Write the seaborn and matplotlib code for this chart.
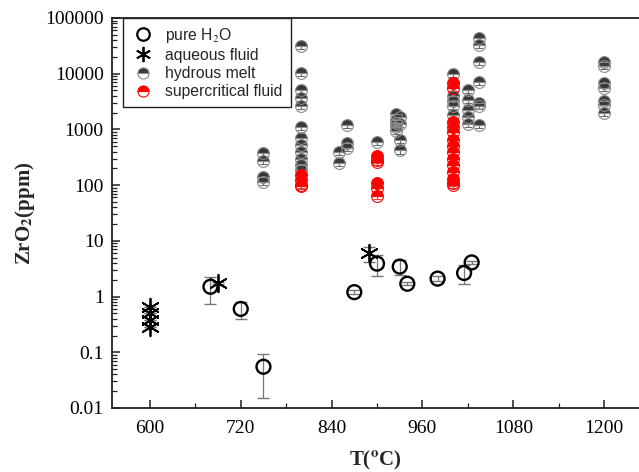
import numpy as np
import pandas as pd
import seaborn as sns
from matplotlib import pyplot as plt
import matplotlib as mpl
from matplotlib.lines import Line2D

sns.set_theme(style='ticks')
plt.rcParams['font.family'] = ['Liberation Serif', 'DejaVu Serif']
plt.rcParams['mathtext.fontset'] = 'stix'

# pure H2O (open circles, with error bars)
pure_T = [680, 720, 750, 870, 900, 930, 940, 980, 1015, 1025]
pure_ppm = [1.5, 0.6, 0.055, 1.2, 3.9, 3.45, 1.7, 2.1, 2.65, 4.1]
pure_err = [0.75, 0.2, 0.04, 0.1, 1.6, 1.0, 0.1, 0.2, 1.0, 0.2]

# aqueous fluid (asterisks)
aq_T = [600, 600, 600, 600, 690, 890]
aq_ppm = [0.65, 0.5, 0.38, 0.28, 1.75, 6.0]
aq_err = [0.0, 0.0, 0.0, 0.0, 0.1, 1.8]

# hydrous melt (half filled, dark)
melt_T = ([750] * 4 + [800] * 12 + [850] * 2 + [860] * 3 + [900] + [925] * 5 + [930] * 4
          + [1000] * 5 + [1020] * 5 + [1035] * 7 + [1200] * 7)
melt_ppm = ([370, 270, 140, 115]
            + [31000, 10500, 5000, 3700, 2600, 1100, 700, 520, 400, 300, 230, 185]
            + [400, 250]
            + [1200, 560, 470]
            + [600]
            + [1900, 1500, 1300, 1100, 950]
            + [1650, 1250, 650, 420]
            + [10000, 4000, 3200, 2600, 1850]
            + [5200, 3400, 2250, 1640, 1230]
            + [43000, 33000, 16500, 7200, 3000, 2600, 1200]
            + [16500, 14000, 6900, 5600, 3300, 2700, 1950])

# supercritical fluid (half filled, red)
sc_T = [800] * 4 + [900] * 6 + [1000] * 14
sc_ppm = ([150, 125, 100, 95]
          + [330, 280, 260, 110, 90, 65]
          + [6800, 5600, 1350, 1100, 900, 650, 500, 400, 300, 230, 170, 130, 110, 100])

pure = pd.DataFrame({'T': pure_T, 'ppm': pure_ppm})
aq = pd.DataFrame({'T': aq_T, 'ppm': aq_ppm})

f = plt.figure(figsize=(6.39, 4.72), dpi=100)
ax = f.add_axes([0.1753, 0.1356, 0.8247, 0.8263])
ax.set_yscale('log')

# half filled melts, error bar visible through the empty lower half
melt_err = [0.12 * v for v in melt_ppm]
ax.errorbar(melt_T, melt_ppm, yerr=melt_err, fmt='o', ms=8.5, fillstyle='top',
            markerfacecolor='#383838', markerfacecoloralt='none', markeredgecolor='#8a8a8a',
            markeredgewidth=0.8, ecolor='#6a6a6a', elinewidth=0.8, capsize=3, zorder=3)
sc_err = [0.12 * v for v in sc_ppm]
ax.errorbar(sc_T, sc_ppm, yerr=sc_err, fmt='o', ms=8.5, fillstyle='top',
            markerfacecolor='red', markerfacecoloralt='none', markeredgecolor='red',
            markeredgewidth=0.8, ecolor='#e04040', elinewidth=0.8, capsize=3, zorder=4)

# pure water with error bars
ax.errorbar(pure_T, pure_ppm, yerr=pure_err, fmt='none', ecolor='#777777',
            elinewidth=0.9, capsize=4, zorder=2)
sns.scatterplot(data=pure, x='T', y='ppm', ax=ax, marker='o', s=100,
                facecolor='none', edgecolor='black', linewidth=1.7, zorder=5)

ax.errorbar(aq_T, aq_ppm, yerr=aq_err, fmt='none', ecolor='#777777',
            elinewidth=0.9, capsize=4, zorder=2)
sns.scatterplot(data=aq, x='T', y='ppm', ax=ax, marker=(6, 2, 0), s=160,
                color='black', linewidth=1.3, zorder=6)

ax.set_xlim(550, 1246)
ax.set_ylim(0.01, 100000)

ax.set_xticks([600, 720, 840, 960, 1080, 1200])
ax.xaxis.set_minor_locator(mpl.ticker.FixedLocator([660, 780, 900, 1020, 1140]))
yt = [0.01, 0.1, 1, 10, 100, 1000, 10000, 100000]
ax.set_yticks(yt)
ax.set_yticklabels(['0.01', '0.1', '1', '10', '100', '1000', '10000', '100000'])
ax.yaxis.set_minor_locator(mpl.ticker.LogLocator(base=10, subs=np.arange(2, 10)))
ax.yaxis.set_minor_formatter(mpl.ticker.NullFormatter())

ax.tick_params(which='both', direction='in', top=False, right=False, colors='#222222',
               labelsize=14, labelcolor='black')
ax.tick_params(which='major', length=6, width=1.1)
ax.tick_params(which='minor', length=3.5, width=0.9)
ax.tick_params(axis='x', which='major', pad=9)
ax.tick_params(axis='y', which='major', pad=6)

for s in ['left', 'bottom', 'top']:
    ax.spines[s].set_color('#222222')
    ax.spines[s].set_linewidth(1.3)
ax.spines['right'].set_visible(False)

ax.set_xlabel(r'T($^{\mathbf{o}}$C)', fontsize=15, fontweight='bold', labelpad=8)
ax.set_ylabel(r'ZrO$_\mathbf{2}$(ppm)', fontsize=15, fontweight='bold', labelpad=6)

handles = [
    Line2D([], [], ls='none', marker='o', ms=9, mfc='none', mec='black', mew=1.6, label='pure H$_2$O'),
    Line2D([], [], ls='none', marker=(6, 2, 0), ms=11, color='black', mew=1.3, label='aqueous fluid'),
    Line2D([], [], ls='none', marker='o', ms=8, fillstyle='top', mfc='#383838', mfcalt='white',
           mec='#8a8a8a', mew=0.8, label='hydrous melt'),
    Line2D([], [], ls='none', marker='o', ms=8, fillstyle='top', mfc='red', mfcalt='white',
           mec='red', mew=0.8, label='supercritical fluid'),
]
leg = ax.legend(handles=handles, loc='upper left', bbox_to_anchor=(0.021, 1.0),
                borderaxespad=0, fancybox=False, framealpha=1, edgecolor='#222222',
                prop={'family': 'Liberation Sans', 'size': 11.3}, handletextpad=0.6,
                labelspacing=0.2, borderpad=0.5, handlelength=1.6)
leg.get_frame().set_linewidth(1.0)

plt.savefig('out.png', dpi=100)
plt.close()
